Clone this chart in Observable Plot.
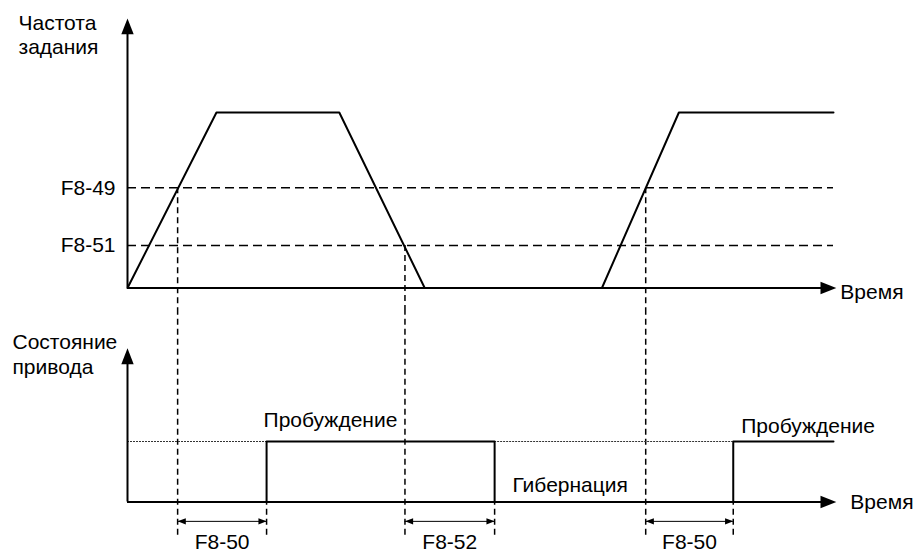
<!DOCTYPE html>
<html><head><meta charset="utf-8">
<script src="https://cdn.jsdelivr.net/npm/d3@7"></script>
<script src="https://cdn.jsdelivr.net/npm/@observablehq/plot@0.6"></script>
<style>
html,body{margin:0;padding:0;background:#fff;}
#chart{width:920px;height:551px;overflow:hidden;}
#chart svg{display:block;}
</style></head><body><div id="chart"></div>
<script>
// ---- data (time in arbitrary units, frequency in % of maximum set-point) ----
const rampTime = [0, 12.6, 30.0, 42.1];
const rampFreq = [0, 100, 100, 0];
const ramp2Time = [67.2, 78.1, 100];
const ramp2Freq = [0, 100, 100];
const thresholdLabels = ["F8-49", "F8-51"];
const thresholdFreq = [57.1, 24.2];
const crossTime = [7.1, 39.3, 73.4];      // set-point crosses a threshold
const crossFreq = [57.1, 24.2, 57.1];
const delayEndTime = [19.7, 52.0, 85.8];  // end of delay -> state changes
const delayLabels = ["F8-50", "F8-52", "F8-50"];
const stateLabels = ["Пробуждение", "Гибернация", "Пробуждение"];
const axisTitles = ["Частота\nзадания", "Состояние\nпривода"];
const timeLabel = "Время";
const timeEnd = 100;
const timeAxisEnd = 100.4;
const freqAxisEnd = 153.6;
const stateAxisEnd = 2.54;
const dimLevel = -0.32;
const dashBottom = -0.55;

// ---- helpers ----
const font = "'Liberation Sans', Arial, sans-serif";
const FS = 21;
const arrowHead = {draw(ctx, size) {
  const r = Math.sqrt(size / Math.PI), L = 2.55 * r;
  ctx.moveTo(0, 0); ctx.lineTo(r, L); ctx.lineTo(-r, L); ctx.closePath();
}};
const xScale = {domain: [0, 100], range: [127, 833], axis: null};
const txt = {fontSize: FS, fontFamily: font, fill: "black"};
const pts = (T, V) => T.map((t, i) => ({t, v: V[i]}));

// ---- top panel: set-point frequency ----
const topPlot = Plot.plot({
  width: 920, height: 310, margin: 0,
  style: {background: "white", fontFamily: font},
  x: xScale,
  y: {domain: [0, 100], range: [287.5, 112], axis: null},
  marks: [
    Plot.ruleY(thresholdFreq, {x1: 0, x2: timeEnd, stroke: "black", strokeWidth: 1.6, strokeDasharray: "9,5"}),
    Plot.ruleX(pts(crossTime, crossFreq), {x: "t", y1: "v", y2: -40, stroke: "black", strokeWidth: 1.5, strokeDasharray: "6,4"}),
    Plot.line(pts(rampTime, rampFreq), {x: "t", y: "v", stroke: "black", strokeWidth: 2}),
    Plot.line(pts(ramp2Time, ramp2Freq), {x: "t", y: "v", stroke: "black", strokeWidth: 2}),
    Plot.ruleX([0], {y1: 0, y2: freqAxisEnd - 4, stroke: "black", strokeWidth: 2}),
    Plot.ruleY([0], {x1: 0, x2: timeAxisEnd - 1, stroke: "black", strokeWidth: 2}),
    Plot.dot([{t: 0, v: freqAxisEnd}], {x: "t", y: "v", symbol: arrowHead, r: 6.2, fill: "black", stroke: "none"}),
    Plot.dot([{t: timeAxisEnd, v: 0}], {x: "t", y: "v", symbol: arrowHead, r: 6.2, rotate: 90, fill: "black", stroke: "none"}),
    Plot.text(pts(thresholdFreq, thresholdLabels), {x: 0, y: "t", text: "v", dx: -12, textAnchor: "end", lineAnchor: "middle", ...txt}),
    Plot.text([timeLabel], {x: timeAxisEnd, y: 0, dx: 4, dy: 4, textAnchor: "start", lineAnchor: "middle", ...txt}),
    Plot.text([axisTitles[0]], {frameAnchor: "top-left", dx: 18, dy: 53, textAnchor: "start", lineAnchor: "bottom", lineHeight: 1.12, ...txt})
  ]
});

// ---- bottom panel: drive state ----
const wake = [
  pts([delayEndTime[0], delayEndTime[0], delayEndTime[1], delayEndTime[1]], [0, 1, 1, 0]),
  pts([delayEndTime[2], delayEndTime[2], timeEnd], [0, 1, 1])
];
const sleepRef = [{a: 0, b: delayEndTime[0]}, {a: delayEndTime[1], b: delayEndTime[2]}];
const dims = crossTime.map((t, i) => ({a: t, b: delayEndTime[i], label: delayLabels[i]}));
const stateText = [
  {t: delayEndTime[0], s: 1, label: stateLabels[0], dx: -3, dy: -15, anchor: "start"},
  {t: (delayEndTime[1] + crossTime[2]) / 2, s: 0, label: stateLabels[1], dx: 0, dy: -10.5, anchor: "middle"},
  {t: delayEndTime[2], s: 1, label: stateLabels[2], dx: 8, dy: -9, anchor: "start"}
];

const bottomPlot = Plot.plot({
  width: 920, height: 241, margin: 0,
  style: {background: "white", fontFamily: font},
  x: xScale,
  y: {domain: [0, 1], range: [191.5, 131], axis: null},
  marks: [
    Plot.ruleX(crossTime, {y1: dashBottom, y2: 4, stroke: "black", strokeWidth: 1.5, strokeDasharray: "6,4"}),
    Plot.ruleX(delayEndTime, {y1: dashBottom, y2: 0, stroke: "black", strokeWidth: 1.5, strokeDasharray: "6,4"}),
    Plot.ruleY(sleepRef, {x1: "a", x2: "b", y: 1, stroke: "#333", strokeWidth: 1.2, strokeDasharray: "2,1"}),
    ...wake.map(w => Plot.line(w, {x: "t", y: "v", stroke: "black", strokeWidth: 2})),
    Plot.ruleX([0], {y1: 0, y2: stateAxisEnd - 0.08, stroke: "black", strokeWidth: 2}),
    Plot.ruleY([0], {x1: 0, x2: timeAxisEnd - 1, stroke: "black", strokeWidth: 2}),
    Plot.dot([{t: 0, v: stateAxisEnd}], {x: "t", y: "v", symbol: arrowHead, r: 6.2, fill: "black", stroke: "none"}),
    Plot.dot([{t: timeAxisEnd, v: 0}], {x: "t", y: "v", symbol: arrowHead, r: 6.2, rotate: 90, fill: "black", stroke: "none"}),
    Plot.ruleY(dims, {x1: "a", x2: "b", y: dimLevel, stroke: "black", strokeWidth: 1}),
    Plot.dot(dims, {x: "a", y: dimLevel, symbol: arrowHead, r: 3.2, rotate: -90, fill: "black", stroke: "none"}),
    Plot.dot(dims, {x: "b", y: dimLevel, symbol: arrowHead, r: 3.2, rotate: 90, fill: "black", stroke: "none"}),
    Plot.text(dims, {x: d => (d.a + d.b) / 2, y: dimLevel, text: "label", dy: 28, textAnchor: "middle", lineAnchor: "bottom", ...txt}),
    ...stateText.map(d => Plot.text([d], {x: "t", y: "s", text: "label", dx: d.dx, dy: d.dy, textAnchor: d.anchor, lineAnchor: "bottom", ...txt})),
    Plot.text([timeLabel], {x: timeAxisEnd, y: 0, dx: 14, dy: 0, textAnchor: "start", lineAnchor: "middle", ...txt}),
    Plot.text([axisTitles[1]], {frameAnchor: "top-left", dx: 12, dy: 63, textAnchor: "start", lineAnchor: "bottom", lineHeight: 1.17, ...txt})
  ]
});

const root = document.getElementById("chart");
root.append(topPlot, bottomPlot);
</script></body></html>
